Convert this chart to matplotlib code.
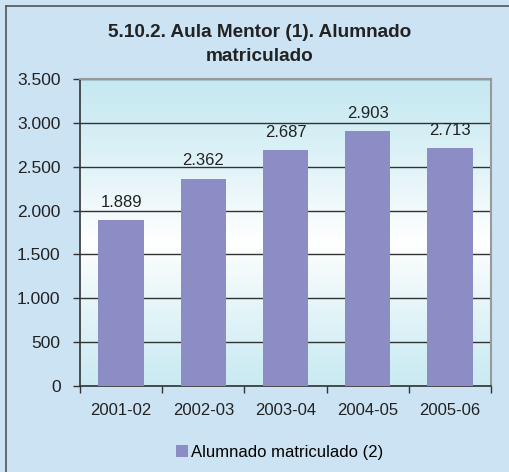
import matplotlib
matplotlib.use("Agg")
import matplotlib.pyplot as plt
import numpy as np
from matplotlib.lines import Line2D
from matplotlib.patches import Patch
from matplotlib.ticker import FuncFormatter

categories = ["2001-02", "2002-03", "2003-04", "2004-05", "2005-06"]
values = [1889, 2362, 2687, 2903, 2713]
yticks = [0, 500, 1000, 1500, 2000, 2500, 3000, 3500]
title = "5.10.2. Aula Mentor (1). Alumnado\nmatriculado"
legend_label = "Alumnado matriculado (2)"

plt.rcParams["font.family"] = ["Liberation Sans", "DejaVu Sans"]

W, H = 509, 472
fig = plt.figure(figsize=(W / 100, H / 100), dpi=100)
fig.patch.set_facecolor("#CBE3F3")
fig.add_artist(Line2D([5.5 / W, 5.5 / W], [0, 1 - 5.5 / H], transform=fig.transFigure,
                      color="#555555", linewidth=1.2))
fig.add_artist(Line2D([5.5 / W, 1], [1 - 5.5 / H, 1 - 5.5 / H], transform=fig.transFigure,
                      color="#555555", linewidth=1.2))

left, right, top, bottom = 80, 491, 79, 386
ax = fig.add_axes([left / W, 1 - bottom / H, (right - left) / W, (bottom - top) / H])

# gradient background: cyan - white - cyan
t = np.linspace(0, 1, 256)
c1 = np.array([0xC4, 0xE8, 0xF1]) / 255
c2 = np.array([1.0, 1.0, 1.0])
w = 1 - np.abs(t - 0.47) / 0.55
w = np.clip(w, 0, 1) ** 1.2
grad = (c1[None, :] * (1 - w[:, None]) + c2[None, :] * w[:, None])
grad = grad[:, None, :]
ax.imshow(grad, extent=[-0.5, 4.5, 0, 3500], aspect="auto", origin="lower", zorder=0)

x = np.arange(len(categories))
ax.bar(x, values, width=0.55, color="#8B8DC4", zorder=3)
for xi, v in zip(x, values):
    ax.text(xi, v + 120, f"{v:,}".replace(",", "."), ha="center", va="bottom",
            fontsize=12, color="#222222", zorder=4)

ax.set_xlim(-0.5, 4.5)
ax.set_ylim(0, 3500)
ax.set_yticks(yticks)
ax.yaxis.set_major_formatter(FuncFormatter(lambda v, p: f"{int(v):,}".replace(",", ".")))
ax.set_xticks(x)
ax.set_xticklabels(categories)
ax.set_xticks(np.arange(-0.5, 5, 1), minor=True)
ax.tick_params(axis="x", which="major", length=0, labelsize=12, pad=12, colors="#222222")
ax.tick_params(axis="x", which="minor", length=5, width=1, color="#333333")
ax.tick_params(axis="y", length=5, width=1, labelsize=12.5, pad=9, colors="#222222")
ax.tick_params(axis="y", color="#333333")
ax.grid(axis="y", color="#333333", linewidth=1, zorder=1)
for s in ["top", "right"]:
    ax.spines[s].set_color("#999999")
    ax.spines[s].set_linewidth(1.5)
for s in ["left", "bottom"]:
    ax.spines[s].set_color("#333333")
    ax.spines[s].set_linewidth(1.2)

fig.text(260 / W, 1 - 44.5 / H, title, ha="center", va="center", fontsize=13.7,
         fontweight="bold", color="#222222", linespacing=1.55)

fig.legend(handles=[Patch(facecolor="#8B8DC4", edgecolor="none", label=legend_label)],
           loc="center", bbox_to_anchor=(280 / W, 1 - 452 / H), frameon=False,
           fontsize=12, handlelength=0.7, handleheight=0.7, handletextpad=0.2)

fig.savefig("out.png", dpi=100, facecolor=fig.get_facecolor())
